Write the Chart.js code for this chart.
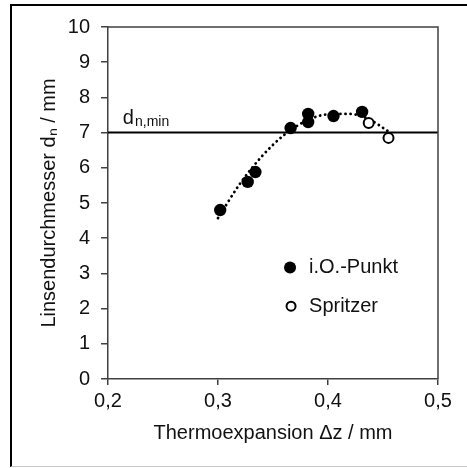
<!DOCTYPE html>
<html>
<head>
<meta charset="utf-8">
<script src="https://cdn.jsdelivr.net/npm/chart.js@4.4.1/dist/chart.umd.min.js"></script>
<style>
  html, body { margin: 0; padding: 0; background: #fff; }
  #wrap { position: relative; width: 467px; height: 468px; }
  #frame {
    position: absolute; left: 10px; top: 4px; width: 470px; height: 463px;
    border-left: 2px solid #000; border-top: 2px solid #000;
    border-bottom: 1px solid #c8c8c8; box-sizing: border-box;
  }
  canvas { position: absolute; left: 0; top: 0; }
</style>
</head>
<body>
<div id="wrap">
  <div id="frame"></div>
  <canvas id="chart" width="467" height="468"></canvas>
</div>
<script>
// measured points
const okX = [0.302, 0.327, 0.334, 0.366, 0.382, 0.382, 0.405, 0.431];
const okY = [4.80, 5.60, 5.88, 7.13, 7.53, 7.30, 7.47, 7.59];
const spritzerX = [0.437, 0.455];
const spritzerY = [7.27, 6.85];

// dotted trend curve
const trendX = [0.300, 0.320, 0.340, 0.360, 0.380, 0.400, 0.420, 0.440, 0.455];
const trendY = [4.57, 5.55, 6.33, 6.93, 7.33, 7.52, 7.53, 7.33, 7.03];

const dnMin = 7;
const xTicks = [0.2, 0.3, 0.4, 0.5];
const yTicks = [0, 1, 2, 3, 4, 5, 6, 7, 8, 9, 10];
const legendLabels = ["i.O.-Punkt", "Spritzer"];

const FONT = "'Liberation Sans', Arial, sans-serif";
const AXIS = "#404040";

const toPts = (xs, ys) => xs.map((x, i) => ({ x: x, y: ys[i] }));

// box, legend and the d_n,min label
const extras = {
  id: "extras",
  afterDraw(chart) {
    const ctx = chart.ctx;
    const a = chart.chartArea;
    const xs = chart.scales.x, ys = chart.scales.y;
    ctx.save();
    ctx.strokeStyle = AXIS;
    ctx.lineWidth = 1.5;
    ctx.beginPath();
    ctx.moveTo(a.left, a.top);
    ctx.lineTo(a.right, a.top);
    ctx.lineTo(a.right, a.bottom);
    ctx.stroke();

    // legend
    const lx = xs.getPixelForValue(0.3655);
    const ly = [ys.getPixelForValue(3.17), ys.getPixelForValue(2.07)];
    ctx.fillStyle = "#000";
    ctx.beginPath();
    ctx.arc(lx, ly[0], 6, 0, Math.PI * 2);
    ctx.fill();
    ctx.lineWidth = 2;
    ctx.strokeStyle = "#000";
    ctx.beginPath();
    ctx.arc(lx + 1, ly[1], 4.5, 0, Math.PI * 2);
    ctx.stroke();
    ctx.font = "20px " + FONT;
    ctx.textBaseline = "middle";
    ctx.fillStyle = "#111";
    ctx.fillText(legendLabels[0], lx + 19, ly[0]);
    ctx.fillText(legendLabels[1], lx + 19, ly[1]);

    // d_n,min label
    const dy = ys.getPixelForValue(dnMin) - 9;
    const dx = xs.getPixelForValue(0.2135);
    ctx.textBaseline = "alphabetic";
    ctx.font = "20px " + FONT;
    ctx.fillText("d", dx, dy);
    const w = ctx.measureText("d").width;
    ctx.font = "14px " + FONT;
    ctx.fillText("n,min", dx + w + 1, dy + 2);
    ctx.restore();
  }
};

new Chart(document.getElementById("chart"), {
  type: "scatter",
  data: {
    datasets: [
      {
        label: "d_n,min",
        type: "line",
        data: toPts([xTicks[0], xTicks[xTicks.length - 1]], [dnMin, dnMin]),
        borderColor: "#000",
        borderWidth: 2,
        pointRadius: 0,
        order: 3
      },
      {
        label: "Trend",
        type: "line",
        data: toPts(trendX, trendY),
        borderColor: "#000",
        borderWidth: 2.8,
        borderDash: [0.1, 5],
        borderCapStyle: "round",
        cubicInterpolationMode: "monotone",
        pointRadius: 0,
        order: 2
      },
      {
        label: legendLabels[0],
        data: toPts(okX, okY),
        pointRadius: 6.2,
        pointBackgroundColor: "#000",
        pointBorderColor: "#000",
        pointBorderWidth: 0,
        order: 1
      },
      {
        label: legendLabels[1],
        data: toPts(spritzerX, spritzerY),
        pointRadius: 5,
        pointBackgroundColor: "#fff",
        pointBorderColor: "#000",
        pointBorderWidth: 2,
        order: 0
      }
    ]
  },
  options: {
    responsive: false,
    animation: false,
    layout: { padding: { left: 0, top: 27, right: 29, bottom: 0 } },
    plugins: {
      legend: { display: false },
      tooltip: { enabled: false }
    },
    scales: {
      x: {
        type: "linear",
        min: 0.2,
        max: 0.5,
        afterBuildTicks: s => { s.ticks = xTicks.map(v => ({ value: v })); },
        afterFit: s => { s.height = 89; },
        border: { color: AXIS, width: 1.5 },
        grid: { drawOnChartArea: false, tickLength: 6, color: AXIS, lineWidth: 1.5 },
        ticks: {
          color: "#111",
          font: { family: FONT, size: 20 },
          padding: 4,
          maxRotation: 0,
          callback: v => v.toFixed(1).replace(".", ",")
        },
        title: {
          display: true,
          text: "Thermoexpansion \u0394z / mm",
          color: "#111",
          font: { family: FONT, size: 20 },
          padding: { top: 0, bottom: 23 }
        }
      },
      y: {
        type: "linear",
        min: 0,
        max: 10,
        afterBuildTicks: s => { s.ticks = yTicks.map(v => ({ value: v })); },
        afterFit: s => { s.width = 108; },
        border: { color: AXIS, width: 1.5 },
        grid: { drawOnChartArea: false, tickLength: 7, color: AXIS, lineWidth: 1.5 },
        ticks: {
          color: "#111",
          font: { family: FONT, size: 20 },
          padding: 11
        },
        title: {
          display: true,
          text: "Linsendurchmesser d\u2099 / mm",
          color: "#111",
          font: { family: FONT, size: 20 },
          padding: { top: 37, bottom: 0 }
        }
      }
    }
  },
  plugins: [extras]
});
</script>
</body>
</html>
